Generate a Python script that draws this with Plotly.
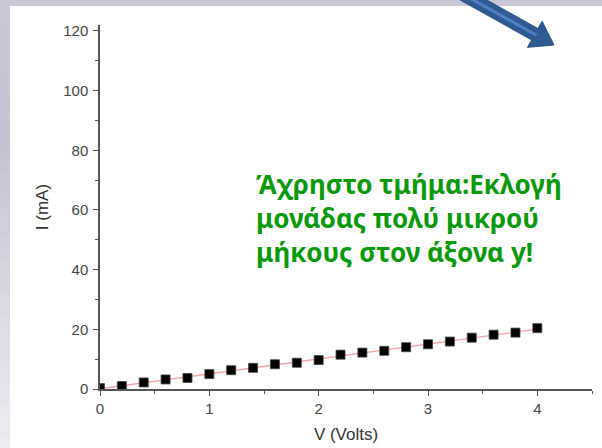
import numpy as np
import plotly.graph_objects as go

# Data
voltage = [0.0, 0.2, 0.4, 0.6, 0.8, 1.0, 1.2, 1.4, 1.6, 1.8, 2.0,
           2.2, 2.4, 2.6, 2.8, 3.0, 3.2, 3.4, 3.6, 3.8, 4.0]
current = [0.3, 1.0, 2.2, 3.2, 3.7, 5.0, 6.3, 7.1, 8.3, 8.8, 9.7,
           11.5, 12.2, 12.8, 14.0, 15.0, 15.9, 17.2, 18.2, 18.9, 20.4]
x_ticks = [0, 1, 2, 3, 4]
y_ticks = [0, 20, 40, 60, 80, 100, 120]
note_lines = ["Άχρηστο τμήμα:Εκλογή", "μονάδας πολύ μικρού", "μήκους στον άξονα y!"]

W, H = 602, 448
L, R, T, B = 100, 10, 25, 59
PW, PH = W - L - R, H - T - B

def px(x):
    return (x - L) / PW

def py(y):
    return (H - B - y) / PH

slope, intercept = np.polyfit(voltage, current, 1)
fit_x = [min(voltage), max(voltage)]
fit_y = [intercept + slope * v for v in fit_x]

fig = go.Figure()
fig.add_trace(go.Scatter(x=fit_x, y=fit_y, mode="lines",
                         line=dict(color="#f3a3a3", width=1.3),
                         showlegend=False, hoverinfo="skip"))
fig.add_trace(go.Scatter(x=voltage, y=current, mode="markers",
                         marker=dict(symbol="square", size=9, color="#000000",
                                     line=dict(color="#444444", width=0.8)),
                         showlegend=False))

shapes = []
# gray slide background strips
shapes.append(dict(type="rect", xref="paper", yref="paper", layer="below",
                   x0=px(0), x1=px(W), y0=py(6), y1=py(0),
                   fillcolor="#cac8d6", line=dict(width=0)))
n = 40
c0 = np.array([202, 200, 214])
c1 = np.array([196, 194, 210])
c2 = np.array([236, 236, 240])
for i in range(n):
    t = i / (n - 1)
    if t < 0.3:
        c = c0 + (c1 - c0) * (t / 0.3)
    else:
        c = c1 + (c2 - c1) * ((t - 0.3) / 0.7)
    y0p = 6 + i * (H - 6) / n
    y1p = 6 + (i + 1) * (H - 6) / n + 0.5
    shapes.append(dict(type="rect", xref="paper", yref="paper", layer="below",
                       x0=px(0), x1=px(10), y0=py(y1p), y1=py(y0p),
                       fillcolor="rgb(%d,%d,%d)" % tuple(int(v) for v in c),
                       line=dict(width=0)))

# blue arrow
S = np.array([452.0, -12.0])
tip = np.array([554.0, 45.0])
d = tip - S
u = d / np.linalg.norm(d)
nrm = np.array([-u[1], u[0]])
Bp = tip - 22 * u
pts = [S + 6.5 * nrm, Bp + 6.5 * nrm, Bp + 15 * nrm, tip, Bp - 15 * nrm, Bp - 6.5 * nrm, S - 6.5 * nrm]
path = "M " + " L ".join("%f,%f" % (px(p[0]), py(p[1])) for p in pts) + " Z"
shapes.append(dict(type="path", xref="paper", yref="paper", path=path,
                   fillcolor="#2f5a92", line=dict(color="#2a5086", width=1)))
E = Bp + 2 * u
shapes.append(dict(type="line", xref="paper", yref="paper",
                   x0=px(S[0]), y0=py(S[1]), x1=px(E[0]), y1=py(E[1]),
                   line=dict(color="#4f7fbf", width=3)))

fig.update_layout(
    width=W, height=H,
    margin=dict(l=L, r=R, t=T, b=B, autoexpand=False),
    paper_bgcolor="white", plot_bgcolor="white",
    font=dict(family="Liberation Sans, Arial, sans-serif", color="#333333"),
    shapes=shapes,
    xaxis=dict(range=[0, 4.5], tickvals=x_ticks, ticks="outside", ticklen=5,
               tickwidth=1.3, tickcolor="#555555", automargin=False,
               showline=True, linecolor="#555555", linewidth=1.5,
               showgrid=False, zeroline=False, ticklabelstandoff=0,
               tickfont=dict(size=15, color="#444444"),
               minor=dict(dtick=0.5, ticks="outside", ticklen=3, tickcolor="#555555", tickwidth=1.3),
               title=dict(text="V (Volts)", font=dict(size=17, color="#333333"), standoff=12)),
    yaxis=dict(range=[0, 122], tickvals=y_ticks, ticks="outside", ticklen=5,
               tickwidth=1.3, tickcolor="#555555", automargin=False,
               showline=True, linecolor="#555555", linewidth=1.5,
               showgrid=False, zeroline=False, ticklabelstandoff=2,
               tickfont=dict(size=15, color="#444444"),
               minor=dict(dtick=10, ticks="outside", ticklen=3, tickcolor="#555555", tickwidth=1.3),
               title=dict(text="I (mA)", font=dict(size=17, color="#333333"), standoff=10)),
    annotations=[dict(text="<br>".join(note_lines), xref="paper", yref="paper",
                      x=px(254), y=py(218), xanchor="left", yanchor="middle",
                      align="left", showarrow=False,
                      font=dict(family="Noto Sans", size=26, color="#0a990a", weight="bold"))],
)

fig.write_html("out.html", config={"displayModeBar": False},
               post_script="document.body.style.margin='0';document.body.style.overflow='hidden';")
